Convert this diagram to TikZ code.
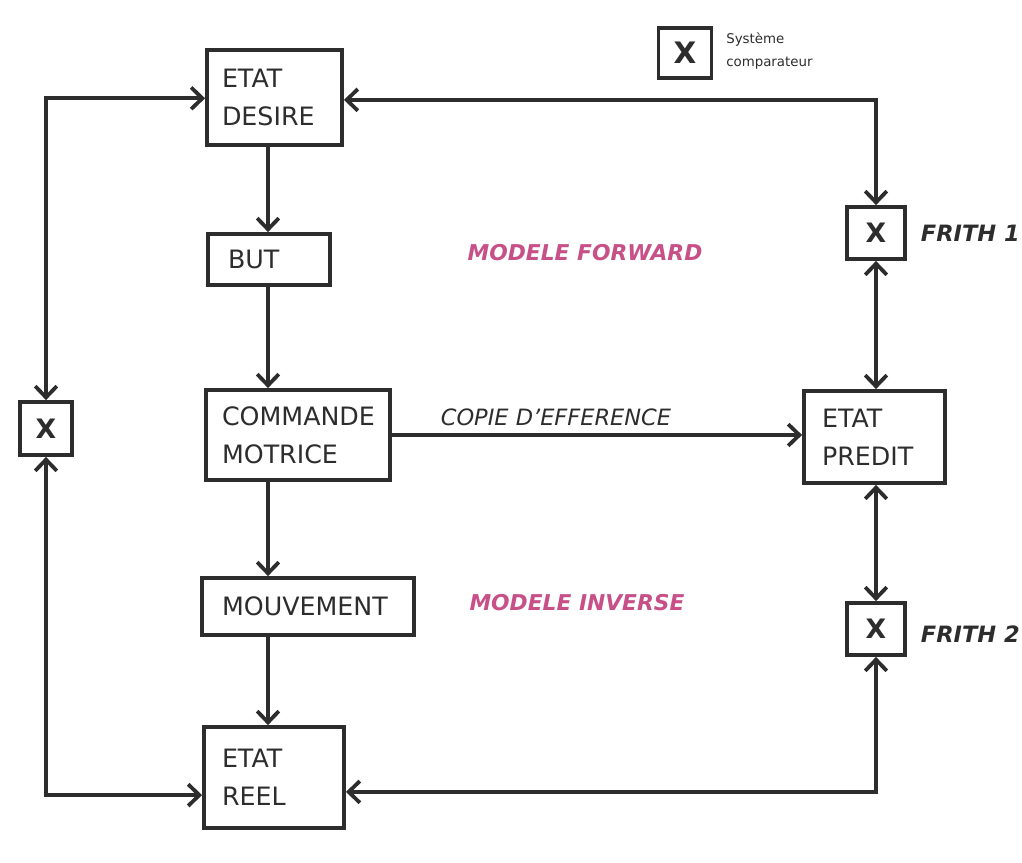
\documentclass[tikz,border=0pt]{standalone}
\usepackage{fontspec}
\setmainfont{DejaVu Sans}
\usetikzlibrary{arrows.meta}
\definecolor{ink}{RGB}{45,45,45}
\definecolor{modelpink}{RGB}{198,80,135}
\begin{document}
\begin{tikzpicture}[
  box/.style={draw=ink, line width=2.7pt, fill=white, align=left, inner xsep=0.4cm,
    font=\fontsize{18}{27}\selectfont, text=ink},
  xbox/.style={draw=ink, line width=2.7pt, fill=white, inner sep=0pt,
    font=\bfseries\fontsize{19}{20}\selectfont, text=ink},
  tip/.style={Straight Barb[length=2.8mm,width=5.4mm]},
  link/.style={draw=ink, line width=2.7pt, -{Straight Barb[length=2.8mm,width=5.4mm]}},
  dlink/.style={draw=ink, line width=2.7pt, {Straight Barb[length=2.8mm,width=5.4mm]}-{Straight Barb[length=2.8mm,width=5.4mm]}},
  model/.style={font=\bfseries\itshape\fontsize{15.5}{18}\selectfont, text=modelpink},
  frith/.style={font=\bfseries\itshape\fontsize{16}{18}\selectfont, text=ink, anchor=west}
]
\useasboundingbox (0,0) rectangle (25.55,-21.575);

% main chain of states
\node[box, minimum width=3.375cm, inner xsep=0.375cm, text width=2.625cm, minimum height=2.375cm] (desire) at (6.8625,-2.4375) {ETAT\\DESIRE};
\node[box, minimum width=3.05cm, inner xsep=0.5cm, text width=2.05cm, minimum height=1.275cm] (but) at (6.725,-6.4875) {BUT};
\node[box, minimum width=4.6cm, inner xsep=0.4cm, text width=3.8cm, minimum height=2.25cm] (cmd) at (7.45,-10.875) {COMMANDE\\MOTRICE};
\node[box, minimum width=5.3cm, inner xsep=0.5cm, text width=4.3cm, minimum height=1.425cm] (mvt) at (7.7,-15.1625) {MOUVEMENT};
\node[box, minimum width=3.5cm, inner xsep=0.45cm, text width=2.6cm, minimum height=2.525cm] (reel) at (6.85,-19.4375) {ETAT\\REEL};
\node[box, minimum width=3.525cm, inner xsep=0.45cm, text width=2.625cm, minimum height=2.3cm] (predit) at (21.8625,-10.925) {ETAT\\PREDIT};

% comparators
\node[xbox, minimum width=1.3cm, minimum height=1.325cm] (xl) at (1.15,-10.7125) {X};
\node[xbox, minimum width=1.45cm, minimum height=1.3cm] (xf1) at (21.9,-5.825) {X};
\node[xbox, minimum width=1.45cm, minimum height=1.3cm] (xf2) at (21.9,-15.725) {X};

% legend
\node[xbox, minimum width=1.325cm, minimum height=1.25cm, font=\bfseries\fontsize{21}{22}\selectfont] (xleg) at (17.125,-1.325) {X};
\node[anchor=west, align=left, text=ink, font=\fontsize{9.5}{16}\selectfont, inner sep=0pt] (legtxt) at (18.15,-1.28) {Système\\comparateur};

% spine of the chain
\coordinate (spine) at (6.7,0);
\draw[link] (desire.south -| spine) -- (but.north -| spine);
\draw[link] (but.south -| spine) -- (cmd.north -| spine);
\draw[link] (cmd.south -| spine) -- (mvt.north -| spine);
\draw[link] (mvt.south -| spine) -- (reel.north -| spine);

% efference copy
\draw[link] (cmd.east) -- (cmd.east -| predit.west);
\node[font=\itshape\fontsize{16}{18}\selectfont, text=ink] (copie) at (13.9,-10.425) {COPIE D’EFFERENCE};

% left comparison loop
\draw[dlink] (xl.north) |- ([yshift=-0.02cm]desire.west);
\draw[dlink] (xl.south) |- ([yshift=-0.44cm]reel.west);

% right comparison loop
\draw[dlink] (xf1.north) |- ([yshift=-0.06cm]desire.east);
\draw[dlink] (xf1.south) -- (predit.north -| xf1);
\draw[dlink] (predit.south -| xf2) -- (xf2.north);
\draw[dlink] (xf2.south) |- ([yshift=-0.36cm]reel.east);

% labels
\node[model] (fwd) at (14.625,-6.325) {MODELE FORWARD};
\node[model] (inv) at (14.425,-15.075) {MODELE INVERSE};
\node[frith] (f1) at (22.9,-5.825) {FRITH 1};
\node[frith] (f2) at (22.9,-15.85) {FRITH 2};
\end{tikzpicture}
\end{document}
